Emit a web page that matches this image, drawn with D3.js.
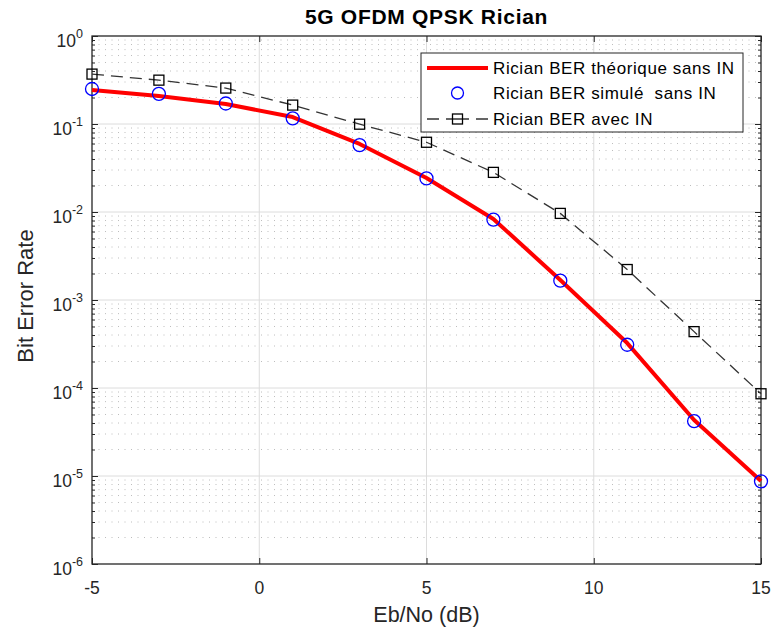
<!DOCTYPE html>
<html><head><meta charset="utf-8">
<script src="https://cdn.jsdelivr.net/npm/d3@7/dist/d3.min.js"></script>
<style>body{margin:0;background:#fff}svg{display:block}text{font-family:"Liberation Sans",Arial,Helvetica,sans-serif}</style>
</head><body><svg id="c" width="774" height="629"></svg>
<script>
const ebno = [-5,-3,-1,1,3,5,7,9,11,13,15];
const berTheory = [0.243,0.208,0.169,0.120,0.0593,0.0243,0.00832,0.00169,3.24e-4,4.33e-5,8.77e-6];
const berSim = [0.25,0.22,0.171,0.116,0.0575,0.0241,0.0082,0.00166,3.1e-4,4.2e-5,8.7e-6];
const berIN = [0.369,0.315,0.256,0.164,0.0995,0.062,0.0282,0.00964,0.00222,4.37e-4,8.6e-5];
const xTicks = [-5,0,5,10,15];
const yExps = [0,-1,-2,-3,-4,-5,-6];
const legendLabels = ["Rician BER théorique sans IN","Rician BER simulé  sans IN","Rician BER avec IN"];
const titleText = "5G OFDM QPSK Rician";
const xLabel = "Eb/No (dB)";
const yLabel = "Bit Error Rate";

const L=92,R=761,T=36,B=564;
const svg=d3.select("#c");
const x=d3.scaleLinear().domain([-5,15]).range([L,R]);
const y=d3.scaleLog().domain([1e-6,1]).range([B,T]);
const g=svg.append("g");
const axisCol="#262626";

// minor grid (horizontal dotted)
const minors=[];
for(let e=-6;e<0;e++){for(let k=2;k<=9;k++)minors.push(k*Math.pow(10,e));}
g.selectAll(".mg").data(minors).enter().append("line")
 .attr("x1",L).attr("x2",R).attr("y1",d=>y(d)).attr("y2",d=>y(d))
 .attr("stroke","#bdbdbd").attr("stroke-width",1).attr("stroke-dasharray","1,5.5");
// major grid
g.selectAll(".gx").data(xTicks.slice(1,-1)).enter().append("line")
 .attr("x1",d=>x(d)).attr("x2",d=>x(d)).attr("y1",T).attr("y2",B)
 .attr("stroke","#dcdcdc").attr("stroke-width",1);
g.selectAll(".gy").data(yExps.slice(1,-1)).enter().append("line")
 .attr("x1",L).attr("x2",R).attr("y1",d=>y(Math.pow(10,d))).attr("y2",d=>y(Math.pow(10,d)))
 .attr("stroke","#dcdcdc").attr("stroke-width",1);

// axes with inward ticks
const ax=(gen,tr)=>{const a=svg.append("g").attr("transform",tr).call(gen);a.select(".domain").remove();a.selectAll("text").remove();a.selectAll("line").attr("stroke",axisCol).attr("stroke-width",1);return a;};
ax(d3.axisBottom(x).tickValues(xTicks).tickSize(-6),`translate(0,${B})`);
ax(d3.axisTop(x).tickValues(xTicks).tickSize(-6),`translate(0,${T})`);
const majorY=yExps.map(e=>Math.pow(10,e));
ax(d3.axisLeft(y).tickValues(majorY).tickSize(-6),`translate(${L},0)`);
ax(d3.axisRight(y).tickValues(majorY).tickSize(-6),`translate(${R},0)`);
ax(d3.axisLeft(y).tickValues(minors).tickSize(-3),`translate(${L},0)`);
ax(d3.axisRight(y).tickValues(minors).tickSize(-3),`translate(${R},0)`);
svg.append("rect").attr("x",L).attr("y",T).attr("width",R-L).attr("height",B-T)
 .attr("fill","none").attr("stroke",axisCol).attr("stroke-width",1.3);

// tick labels
svg.selectAll(".xt").data(xTicks).enter().append("text")
 .attr("x",d=>x(d)).attr("y",B+30).attr("text-anchor","middle")
 .attr("font-size",17.5).attr("fill","#262626").text(d=>d);
const yt=svg.selectAll(".yt").data(yExps).enter().append("text")
 .attr("x",L-9).attr("y",d=>y(Math.pow(10,d))+11).attr("text-anchor","end")
 .attr("font-size",17.5).attr("fill","#262626");
yt.append("tspan").text("10");
yt.append("tspan").attr("dy",-9).attr("font-size",12.5).text(d=>d);

// title & labels
svg.append("text").attr("x",(L+R)/2).attr("y",24).attr("text-anchor","middle")
 .attr("font-size",21).attr("letter-spacing",0.7).attr("font-weight","bold").attr("fill","#000").text(titleText);
svg.append("text").attr("x",(L+R)/2).attr("y",622).attr("text-anchor","middle")
 .attr("font-size",21.5).attr("fill","#262626").text(xLabel);
svg.append("text").attr("transform",`translate(33,${(T+B)/2-4}) rotate(-90)`).attr("text-anchor","middle")
 .attr("font-size",22).attr("fill","#262626").text(yLabel);

// series
const line=d3.line().x(d=>x(d[0])).y(d=>y(d[1]));
svg.append("path").datum(d3.zip(ebno,berIN)).attr("d",line).attr("fill","none")
 .attr("stroke","#333").attr("stroke-width",1.3).attr("stroke-dasharray","12,7");
svg.append("path").datum(d3.zip(ebno,berTheory)).attr("d",line).attr("fill","none")
 .attr("stroke","#ff0000").attr("stroke-width",4).attr("stroke-linejoin","round");
svg.selectAll(".sq").data(d3.zip(ebno,berIN)).enter().append("rect")
 .attr("x",d=>x(d[0])-5).attr("y",d=>y(d[1])-5).attr("width",10).attr("height",10)
 .attr("fill","none").attr("stroke","#000").attr("stroke-width",1.3);
svg.selectAll(".ci").data(d3.zip(ebno,berSim)).enter().append("circle")
 .attr("cx",d=>x(d[0])).attr("cy",d=>y(d[1])).attr("r",6.5)
 .attr("fill","none").attr("stroke","#0000ff").attr("stroke-width",1.3);

// legend
const lg=svg.append("g");
lg.append("rect").attr("x",421).attr("y",53).attr("width",322).attr("height",79)
 .attr("fill","#fff").attr("stroke","#262626").attr("stroke-width",1);
const rows=[68,93,119];
lg.append("line").attr("x1",427).attr("x2",488).attr("y1",rows[0]).attr("y2",rows[0]).attr("stroke","#ff0000").attr("stroke-width",4);
lg.append("circle").attr("cx",457.5).attr("cy",rows[1]).attr("r",6).attr("fill","none").attr("stroke","#0000ff").attr("stroke-width",1.3);
lg.append("line").attr("x1",427).attr("x2",488).attr("y1",rows[2]).attr("y2",rows[2]).attr("stroke","#333").attr("stroke-width",1.3).attr("stroke-dasharray","12,7,23,7,12");
lg.append("rect").attr("x",452.5).attr("y",rows[2]-5).attr("width",10).attr("height",10).attr("fill","none").attr("stroke","#000").attr("stroke-width",1.3);
lg.selectAll(".lt").data(legendLabels).enter().append("text")
 .attr("x",493).attr("y",(d,i)=>rows[i]+6).attr("font-size",17).attr("letter-spacing",0.6).attr("fill","#000")
 .attr("xml:space","preserve").style("white-space","pre").text(d=>d);
</script></body></html>
